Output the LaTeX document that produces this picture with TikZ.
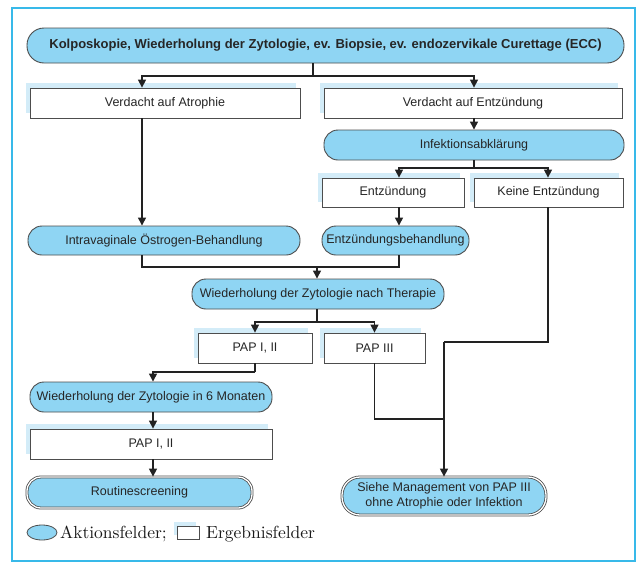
\documentclass[tikz,border=0pt]{standalone}
\usepackage{fontspec}
\setsansfont{Liberation Sans}
\newfontfamily\legendfont{lmroman10-regular.otf}
\usetikzlibrary{arrows.meta,shadows,shapes.geometric}

\definecolor{framecyan}{HTML}{38B9E9}
\definecolor{actfill}{HTML}{8FD5F3}
\definecolor{shadowblue}{HTML}{D3ECF8}
\definecolor{edgegray}{HTML}{4D4D4D}
\definecolor{linedark}{HTML}{222222}

\begin{document}
\begin{tikzpicture}[x=1pt,y=-1pt,
  base/.style={inner sep=0pt, font=\sffamily\fontsize{12.5}{15}\selectfont,
    text=black!85, align=center},
  action/.style={base, draw=edgegray, line width=0.9pt, fill=actfill,
    minimum height=30pt, rounded corners=14pt},
  terminal/.style={action, line width=0.8pt, double=white, double distance=1.3pt},
  resultshape/.style={base, draw=edgegray, line width=0.8pt, fill=white,
    minimum height=30pt},
  result/.style={resultshape, drop shadow={shadow xshift=-4pt, shadow yshift=5pt,
    fill=shadowblue, opacity=1}},
  line/.style={draw=linedark, line width=1.3pt},
  arr/.style={line, -{Triangle[width=8pt,length=8pt]}},
  legendtext/.style={anchor=base west, inner sep=0pt,
    font=\legendfont\fontsize{17.5}{20}\selectfont, text=black!90}]

\useasboundingbox (0,0) rectangle (637,563);
\fill[white] (0,0) rectangle (637,563);
\draw[framecyan, line width=2pt] (12,8) rectangle (635,561);

% action and result fields
\node[action, minimum width=597pt, minimum height=35pt, rounded corners=17pt,
  font=\sffamily\bfseries\fontsize{13}{15}\selectfont] (top) at (325.5,45.5)
  {Kolposkopie, Wiederholung der Zytologie, ev. Biopsie, ev. endozervikale Curettage (ECC)};
\node[result, minimum width=270pt] (atro) at (165,103) {Verdacht auf Atrophie};
\node[result, minimum width=298pt] (entzv) at (473,103) {Verdacht auf Entzündung};
\node[action, minimum width=300pt] (infekt) at (474,145) {Infektionsabklärung};
\node[result, minimum width=142pt, minimum height=29pt] (entz) at (393,192.5) {Entzündung};
\node[result, minimum width=149pt, minimum height=29pt] (keine) at (548.5,192.5) {Keine Entzündung};
\node[action, minimum width=147pt, minimum height=29pt] (entzb) at (395.5,240.5) {Entzündungsbehandlung};
\node[action, minimum width=272pt, minimum height=29pt] (intra) at (164,240.5) {Intravaginale Östrogen-Behandlung};
\node[action, minimum width=252pt] (wdh) at (318,294) {Wiederholung der Zytologie nach Therapie};
\node[result, minimum width=114pt] (pap1) at (255,348) {PAP I, II};
\node[result, minimum width=101pt] (pap3) at (374.5,348) {PAP III};
\node[action, minimum width=242pt] (wdh6) at (151,397) {Wiederholung der Zytologie in 6 Monaten};
\node[result, minimum width=242pt] (pap2) at (151,444) {PAP I, II};
\node[terminal, minimum width=225pt, minimum height=31pt] (rout) at (139.5,492.5) {Routinescreening};
\node[terminal, minimum width=204pt, minimum height=38pt, rounded corners=18pt] (siehe) at (444,496)
  {Siehe Management von PAP III\\ohne Atrophie oder Infektion};

% junctions of the connectors
\coordinate (s1) at (313,76);
\coordinate (xa) at (142,0);
\coordinate (xe) at (399,0);
\coordinate (xk) at (548,0);
\coordinate (s2) at (474,168);
\coordinate (s3) at (317,267);
\coordinate (s4) at (317,322);
\coordinate (s7) at (255,372);
\coordinate (xb) at (153,0);
\coordinate (s5) at (444,342);
\coordinate (s6) at (444,419);

% connectors
\draw[line] (top.south -| s1) -- (s1);
\draw[arr] (s1) -| (atro.north -| xa);
\draw[arr] (s1) -| (entzv.north -| s2);
\draw[arr] (entzv.south -| s2) -- (infekt.north -| s2);
\draw[line] (infekt.south -| s2) -- (s2);
\draw[arr] (s2) -| (entz.north -| xe);
\draw[arr] (s2) -| (keine.north -| xk);
\draw[arr] (atro.south -| xa) -- (intra.north -| xa);
\draw[arr] (entz.south -| xe) -- (entzb.north -| xe);
\draw[line] (intra.south -| xa) |- (s3);
\draw[line] (entzb.south -| xe) |- (s3);
\draw[arr] (s3) -- (wdh.north -| s3);
\draw[line] (wdh.south -| s4) -- (s4);
\draw[arr] (s4) -| (pap1.north);
\draw[arr] (s4) -| (pap3.north);
\draw[line] (pap1.south) -- (s7);
\draw[arr] (s7) -| (wdh6.north -| xb);
\draw[arr] (wdh6.south -| xb) -- (pap2.north -| xb);
\draw[arr] (pap2.south -| xb) -- (rout.north -| xb);
\draw[line] (keine.south -| xk) |- (s5);
\draw[line] (pap3.south) |- (s6);
\draw[arr] (s5) -- (siehe.north);

% legend
\node[ellipse, draw=edgegray, fill=actfill, line width=0.8pt, inner sep=0pt,
  minimum width=30pt, minimum height=15pt] (legA) at (42,532.5) {};
\node[legendtext] (legAt) at (60,538) {Aktionsfelder;};
\node[resultshape, minimum width=22pt, minimum height=13pt,
  drop shadow={shadow xshift=-3pt, shadow yshift=4pt, fill=shadowblue, opacity=1}]
  (legE) at (188,532.5) {};
\node[legendtext] (legEt) at (206,538) {Ergebnisfelder};
\end{tikzpicture}
\end{document}
